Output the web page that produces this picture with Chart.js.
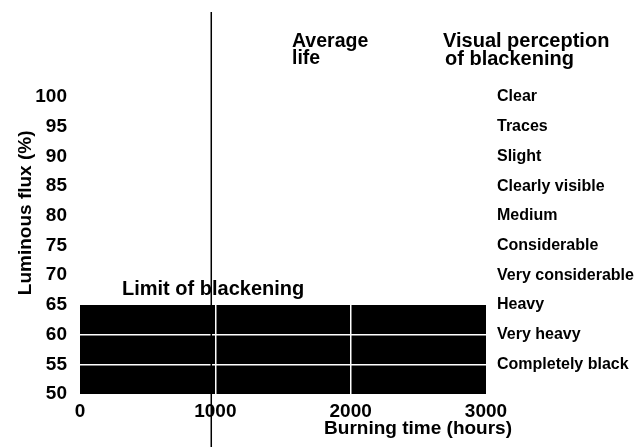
<!DOCTYPE html>
<html>
<head>
<meta charset="utf-8">
<script src="https://cdn.jsdelivr.net/npm/chart.js@4.4.1/dist/chart.umd.min.js"></script>
<style>
  html, body { margin: 0; padding: 0; background: #fff; }
</style>
</head>
<body>
<canvas id="myChart" width="637" height="447"></canvas>
<script>
// burning time (hours) at the ends of the blackened band
const hours = [0, 3000];
// luminous flux (%) below which the lamp counts as blackened
const limitFlux = [65, 65];
// where the "average life" line sits on the time axis
const averageLife = 970;
// grid lines that show through the black band
const bandGridX = [1000, 2000];
const bandGridY = [55, 60];
// right hand scale: flux value -> visual perception of blackening
const fluxTicks = [50, 55, 60, 65, 70, 75, 80, 85, 90, 95, 100];
const perception = ['', 'Completely black', 'Very heavy', 'Heavy', 'Very considerable',
    'Considerable', 'Medium', 'Clearly visible', 'Slight', 'Traces', 'Clear'];

const FONT = "'Liberation Sans', Arial, Helvetica, sans-serif";

const notes = {
    id: 'notes',
    afterDraw(chart) {
        const c = chart.ctx;
        const x = chart.scales.x;
        const y = chart.scales.y;
        c.save();
        // average life line, runs past the plot area
        const lx = x.getPixelForValue(averageLife);
        c.strokeStyle = '#000';
        c.lineWidth = 1.5;
        c.beginPath();
        c.moveTo(lx, 12);
        c.lineTo(lx, chart.height);
        c.stroke();

        c.fillStyle = '#000';
        c.textBaseline = 'alphabetic';
        c.textAlign = 'left';
        c.font = 'bold 19.5px ' + FONT;
        c.fillText('Average', 292, 47);
        c.fillText('life', 292, 64);
        c.font = 'bold 20px ' + FONT;
        c.fillText('Visual perception', 443, 47);
        c.fillText('of blackening', 445, 65);
        c.fillText('Limit of blackening', x.getPixelForValue(0) + 42, y.getPixelForValue(65) - 10);

        // axis titles
        c.font = 'bold 19px ' + FONT;
        c.textAlign = 'right';
        c.fillText('Burning time (hours)', 512, 434);
        c.translate(31, y.getPixelForValue(80.5));
        c.rotate(-Math.PI / 2);
        c.textAlign = 'center';
        c.fillText('Luminous flux (%)', 0, 0);
        c.restore();
    }
};

const ctx = document.getElementById('myChart').getContext('2d');
const myChart = new Chart(ctx, {
    type: 'line',
    data: {
        datasets: [{
            data: hours.map((h, i) => ({ x: h, y: limitFlux[i] })),
            fill: 'start',
            backgroundColor: '#000',
            borderColor: '#000',
            borderWidth: 0,
            pointRadius: 0
        }]
    },
    options: {
        responsive: false,
        animation: false,
        layout: { padding: { top: 97, left: 0, right: 0, bottom: 0 } },
        plugins: {
            legend: { display: false },
            tooltip: { enabled: false }
        },
        scales: {
            x: {
                type: 'linear',
                min: 0,
                max: 3000,
                afterFit: (s) => { s.height = 53; },
                border: { display: false },
                grid: {
                    z: 1,
                    drawTicks: false,
                    lineWidth: 1.5,
                    color: (c) => bandGridX.includes(c.tick && c.tick.value) ? '#fff' : 'rgba(0,0,0,0)'
                },
                ticks: {
                    stepSize: 1000,
                    padding: 6,
                    color: '#000',
                    maxRotation: 0,
                    font: { family: FONT, size: 19, weight: 'bold' },
                    callback: (v) => String(v)
                }
            },
            y: {
                min: 50,
                max: 100,
                afterFit: (s) => { s.width = 80; },
                border: { display: false },
                grid: {
                    z: 1,
                    drawTicks: false,
                    lineWidth: 1.5,
                    color: (c) => bandGridY.includes(c.tick && c.tick.value) ? '#fff' : 'rgba(0,0,0,0)'
                },
                ticks: {
                    stepSize: 5,
                    padding: 13,
                    color: '#000',
                    font: { family: FONT, size: 19, weight: 'bold' }
                }
            },
            y2: {
                position: 'right',
                min: 50,
                max: 100,
                afterFit: (s) => { s.width = 151; },
                border: { display: false },
                grid: { display: false, drawTicks: false },
                ticks: {
                    stepSize: 5,
                    padding: 11,
                    color: '#000',
                    font: { family: FONT, size: 16, weight: 'bold' },
                    callback: (v) => perception[fluxTicks.indexOf(v)]
                }
            }
        }
    },
    plugins: [notes]
});
</script>
</body>
</html>
